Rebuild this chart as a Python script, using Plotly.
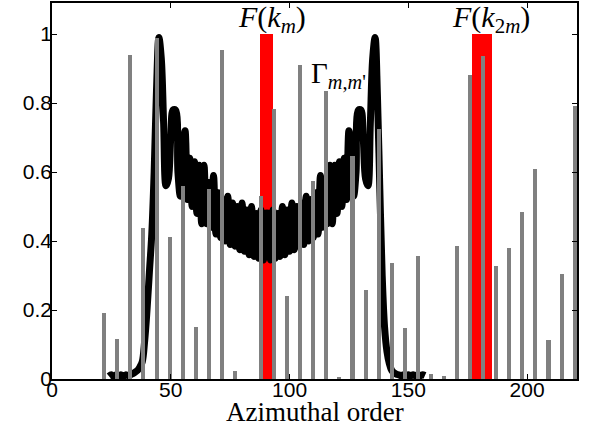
import plotly.graph_objects as go

# Gray bars: Gamma_{m,m'} at sampled azimuthal orders
bar_m = [22, 27.5, 33, 38.5, 44, 49.5, 55, 60.5, 66, 71.5, 77, 82.5, 88, 93.5,
         99, 104.5, 110, 115.5, 121, 126.5, 132, 137.5, 143, 148.5, 154, 159.5,
         165, 170.5, 176, 181.5, 187, 192.5, 198, 203.5, 209, 214.5, 220]
bar_val = [0.19, 0.115, 0.94, 0.437, 0.99, 0.413, 0.56, 0.152, 0.55, 0.955,
           0.023, 0.0, 0.53, 0.783, 0.24, 0.91, 0.574, 0.836, 0.006, 0.646,
           0.258, 0.724, 0.337, 0.147, 0.357, 0.014, 0.01, 0.386, 0.881, 0.936,
           0.328, 0.381, 0.485, 0.61, 0.113, 0.304, 0.79]

# Red bars: F(k_m) and F(k_2m)
red_m = [90.4, 180.9]
red_val = [1.0, 1.0]
red_w = [5.6, 8.4]

# Black curve
curve_m = [24, 25, 26, 27, 28, 29, 30, 31, 32, 33, 34, 35, 36, 37, 38, 39, 40,
           41, 42, 43, 44, 45, 46, 47, 48, 49, 50, 51, 52, 53, 54, 55, 56, 57,
           58, 59, 60, 61, 62, 63, 64, 65, 66, 67, 68, 69, 70, 71, 72, 73, 74,
           75, 76, 77, 78, 79, 80, 81, 82, 83, 84, 85, 86, 87, 88, 89, 90, 91,
           92, 93, 94, 95, 96, 97, 98, 99, 100, 101, 102, 103, 104, 105, 106,
           107, 108, 109, 110, 111, 112, 113, 114, 115, 116, 117, 118, 119, 120,
           121, 122, 123, 124, 125, 126, 127, 128, 129, 130, 131, 132, 133, 134,
           135, 136, 137, 138, 139, 140, 141, 142, 143, 144, 145, 146, 147, 148,
           149, 150, 151, 152, 153, 154, 155, 156, 157]
curve_val = [0.008, 0.012, 0.008, 0.012, 0.008, 0.012, 0.008, 0.012, 0.01, 0.012,
             0.015, 0.02, 0.025, 0.035, 0.05, 0.11, 0.2, 0.31, 0.42, 0.6, 0.84,
             0.99, 0.93, 0.74, 0.56, 0.58, 0.70, 0.78, 0.78, 0.60, 0.53, 0.66,
             0.72, 0.52, 0.64, 0.50, 0.63, 0.48, 0.62, 0.45, 0.62, 0.45, 0.57,
             0.44, 0.59, 0.42, 0.54, 0.41, 0.52, 0.40, 0.53, 0.39, 0.51, 0.385,
             0.50, 0.375, 0.51, 0.37, 0.49, 0.36, 0.50, 0.355, 0.48, 0.35, 0.49,
             0.345, 0.48, 0.48, 0.345, 0.49, 0.35, 0.48, 0.355, 0.50, 0.36, 0.49,
             0.37, 0.51, 0.375, 0.50, 0.385, 0.51, 0.39, 0.53, 0.40, 0.52, 0.41,
             0.54, 0.42, 0.59, 0.44, 0.57, 0.45, 0.62, 0.45, 0.62, 0.48, 0.63,
             0.50, 0.64, 0.52, 0.72, 0.66, 0.53, 0.60, 0.78, 0.78, 0.70, 0.58,
             0.56, 0.74, 0.93, 0.99, 0.82, 0.55, 0.30, 0.15, 0.08, 0.045, 0.025,
             0.018, 0.014, 0.012, 0.01, 0.012, 0.01, 0.012, 0.01, 0.012, 0.01,
             0.012, 0.01, 0.012, 0.01]

x_ticks = [0, 50, 100, 150, 200]
y_ticks = [0, 0.2, 0.4, 0.6, 0.8, 1]
y_tick_text = ["0", "0.2", "0.4", "0.6", "0.8", "1"]

fig = go.Figure()
fig.add_trace(go.Bar(x=red_m, y=red_val, width=red_w, marker=dict(color="#ff0000", line=dict(width=0)),
                     xaxis="x", yaxis="y", showlegend=False))
fig.add_trace(go.Scatter(x=curve_m, y=curve_val, mode="lines",
                         line=dict(color="black", width=7, shape="spline", smoothing=1.0),
                         xaxis="x", yaxis="y", showlegend=False))
fig.add_trace(go.Bar(x=bar_m, y=bar_val, width=1.7, marker=dict(color="#808080", line=dict(width=0)),
                     xaxis="x", yaxis="y2", showlegend=False))

serif = "Liberation Serif"
sans = "Liberation Sans"
yr = [0, 1.09]
fig.update_layout(
    width=593, height=436,
    margin=dict(l=52, r=16, t=3, b=57),
    paper_bgcolor="white", plot_bgcolor="white",
    barmode="overlay", bargap=0,
    xaxis=dict(range=[0, 221], tickvals=x_ticks, ticks="inside", ticklen=5,
               tickcolor="black", showline=True, linecolor="black", linewidth=1.5,
               mirror="ticks", showgrid=False, zeroline=False, automargin=False,
               ticklabelstandoff=-9,
               tickfont=dict(family=sans, size=21, color="black")),
    yaxis=dict(range=yr, tickvals=y_ticks, ticktext=y_tick_text, ticks="inside", ticklen=5,
               tickcolor="black", showline=True, linecolor="black", linewidth=1.5,
               mirror="ticks", showgrid=False, zeroline=False, automargin=False,
               ticklabelstandoff=-6,
               tickfont=dict(family=sans, size=21, color="black")),
    yaxis2=dict(range=yr, overlaying="y", visible=False),
)

fig.add_annotation(x=0.5, y=-(412 - 379) / 376, xref="paper", yref="paper", showarrow=False,
                   text="Azimuthal order", yanchor="middle",
                   font=dict(family=serif, size=27, color="black"))
fig.add_annotation(x=92.6, y=1.045, xref="x", yref="y", showarrow=False,
                   text="<i>F</i>(<i>k</i><sub><i>m</i></sub>)",
                   font=dict(family=serif, size=30, color="black"))
fig.add_annotation(x=184.8, y=1.045, xref="x", yref="y", showarrow=False,
                   text="<i>F</i>(<i>k</i><sub>2<i>m</i></sub>)",
                   font=dict(family=serif, size=30, color="black"))
fig.add_annotation(x=120.5, y=0.88, xref="x", yref="y", showarrow=False,
                   text="Γ<sub><i>m</i>,<i>m</i>'</sub>",
                   font=dict(family=serif, size=29, color="black"))

fig.write_html("out.html", config={"displayModeBar": False},
               post_script="document.body.style.margin='0';document.body.style.overflow='hidden';")
